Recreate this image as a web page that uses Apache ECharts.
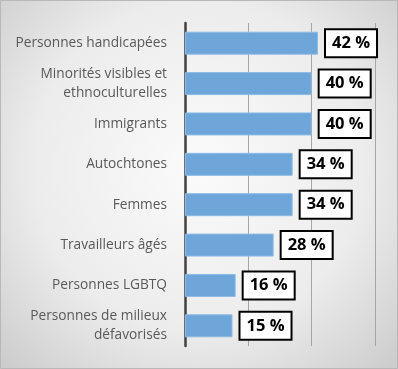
<!DOCTYPE html>
<html><head><meta charset="utf-8">
<script src="https://cdn.jsdelivr.net/npm/echarts@6/dist/echarts.min.js"></script>
<style>html,body{margin:0;padding:0;}#c{width:398px;height:369px;}</style>
</head><body><div id="c"></div>
<script>
const categories = ["Personnes handicapées", "Minorités visibles et\nethnoculturelles", "Immigrants", "Autochtones", "Femmes", "Travailleurs âgés", "Personnes LGBTQ", "Personnes de milieux\ndéfavorisés"];
const values = [42, 40, 40, 34, 34, 28, 16, 15];
const axisMax = 60;
const axisInterval = 20;

const chart = echarts.init(document.getElementById('c'));
chart.setOption({
  animation: false,
  backgroundColor: {type:'radial', x:0.5, y:0.45, r:0.75, colorStops:[{offset:0,color:'#fbfbfb'},{offset:0.6,color:'#ececec'},{offset:1,color:'#cdcdcd'}]},
  graphic: [{type:'rect', shape:{x:0.5,y:0.5,width:397,height:368}, style:{fill:'none', stroke:'#b8b8b8', lineWidth:1}}],
  grid: {left:185, right:23, top:23, bottom:23, containLabel:false},
  xAxis: {type:'value', min:0, max:axisMax, interval:axisInterval,
    axisLabel:{show:false}, axisLine:{show:false}, axisTick:{show:false},
    splitLine:{show:true, lineStyle:{color:'#a6a6a6', width:1}}},
  yAxis: {type:'category', inverse:true, data:categories,
    axisLine:{show:true, lineStyle:{color:'#404040', width:2.5}}, axisTick:{show:false},
    axisLabel:{margin:18, color:'#595959', fontFamily:'Open Sans', fontSize:13.7, lineHeight:19, align:'right'}},
  series: [{type:'bar', data:values, barWidth:23,
    itemStyle:{color:'#6fa6da', borderColor:'#8cbbe6', borderWidth:1},
    label:{show:true, position:'right', distance:8, formatter:'{c} %',
      fontFamily:'Open Sans', fontWeight:'bold', fontSize:16.5, color:'#000',
      backgroundColor:'#fff', borderColor:'#000', borderWidth:2, padding:[5,6,4,6]}}]
});
</script></body></html>
